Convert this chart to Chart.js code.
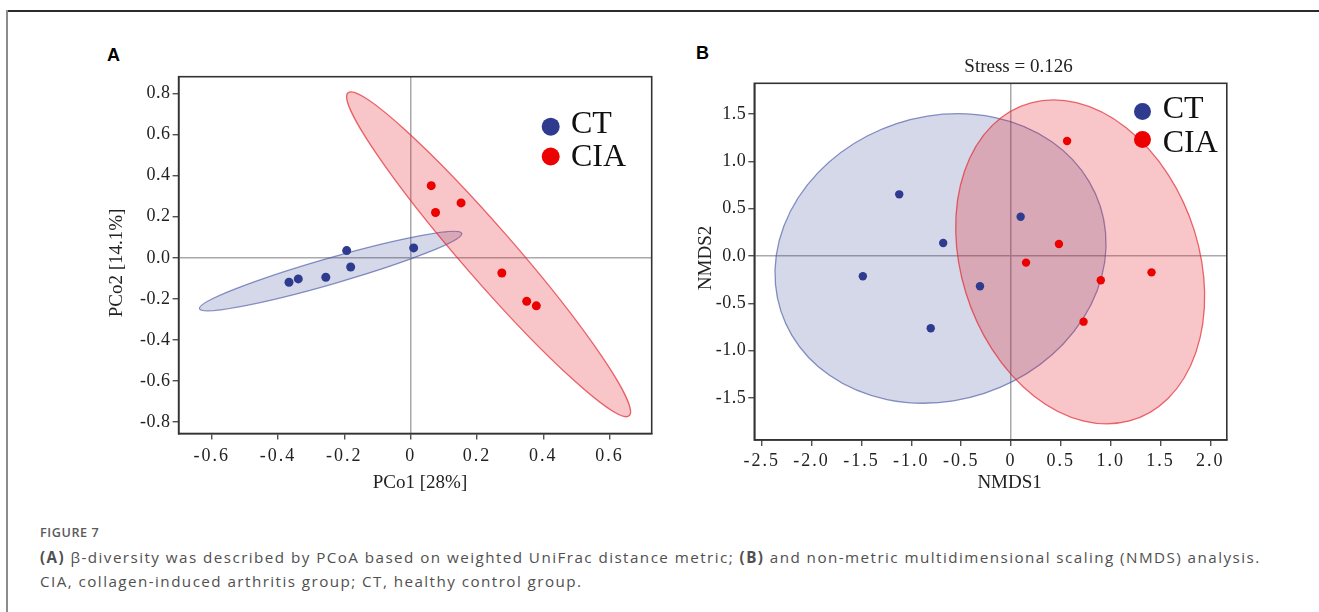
<!DOCTYPE html>
<html>
<head>
<meta charset="utf-8">
<script src="https://cdn.jsdelivr.net/npm/chart.js@4"></script>
<style>
  html, body { margin: 0; padding: 0; background: #fff; width: 1319px; height: 612px; overflow: hidden; }
  .frameTop { position: absolute; left: 6px; top: 10px; width: 1313px; height: 1.5px; background: #2b2b2b; }
  .frameLeft { position: absolute; left: 6px; top: 10px; width: 2px; height: 602px; background: #8c8c8c; }
  .panel { position: absolute; font: bold 18px "Liberation Sans", Arial, sans-serif; color: #000; }
  canvas { position: absolute; }
  .cap { position: absolute; left: 40px; font-family: "Open Sans", "Noto Sans", sans-serif; color: #505050; white-space: nowrap; }
  .capHead { top: 523px; line-height: 20px; font-size: 12.6px; font-weight: 600; color: #5a5a5a; letter-spacing: 0.6px; }
  .capLine { font-size: 15.2px; line-height: 25px; letter-spacing: 1.45px; }
</style>
</head>
<body>
<div class="frameTop"></div>
<div class="frameLeft"></div>
<div class="panel" style="left:107px; top:45px;">A</div>
<div class="panel" style="left:696px; top:43px;">B</div>
<canvas id="chartA" width="600" height="470" style="left:90px; top:40px;"></canvas>
<canvas id="chartB" width="560" height="470" style="left:690px; top:40px;"></canvas>
<div class="cap capHead">FIGURE 7</div>
<div class="cap capLine" style="top:544.5px;"><b>(A)</b> β-diversity was described by PCoA based on weighted UniFrac distance metric; <b>(B)</b> and non-metric multidimensional scaling (NMDS) analysis.</div>
<div class="cap capLine" style="top:569px;">CIA, collagen-induced arthritis group; CT, healthy control group.</div>

<script>
// groups
const groupNames = ['CT', 'CIA']
const groupColors = ['#2e3b8e', '#ec0000']

// A: PCoA
const pcoCtX = [-0.367, -0.339, -0.256, -0.193, -0.181, 0.009]
const pcoCtY = [-0.119, -0.103, -0.095, 0.035, -0.045, 0.048]
const pcoCiaX = [0.062, 0.075, 0.152, 0.275, 0.350, 0.379]
const pcoCiaY = [0.351, 0.220, 0.267, -0.074, -0.212, -0.234]
const pcoXTicks = [-0.6, -0.4, -0.2, 0, 0.2, 0.4, 0.6]
const pcoXLabels = ['-0.6', '-0.4', '-0.2', '0', '0.2', '0.4', '0.6']
const pcoYTicks = [0.8, 0.6, 0.4, 0.2, 0, -0.2, -0.4, -0.6, -0.8]
const pcoYLabels = ['0.8', '0.6', '0.4', '0.2', '0.0', '-0.2', '-0.4', '-0.6', '-0.8']
// ellipses: centre, two conjugate semi-axes (data units)
const pcoCtEllipse = { c: [-0.2415, -0.0645], u: [0.3955, 0.1835], v: [0.0108, -0.0608] }
const pcoCiaEllipse = { c: [0.235, 0.017], u: [0.424, -0.786], v: [0.0591, 0.0832] }

// B: NMDS
const nmdsCtX = [-1.121, -0.680, -1.486, -0.311, -0.805, 0.097]
const nmdsCtY = [0.651, 0.137, -0.215, -0.320, -0.764, 0.415]
const nmdsCiaX = [0.563, 0.481, 0.151, 0.901, 1.410, 0.728]
const nmdsCiaY = [1.215, 0.127, -0.070, -0.257, -0.173, -0.694]
const nmdsXTicks = [-2.5, -2.0, -1.5, -1.0, -0.5, 0, 0.5, 1.0, 1.5, 2.0]
const nmdsXLabels = ['-2.5', '-2.0', '-1.5', '-1.0', '-0.5', '0', '0.5', '1.0', '1.5', '2.0']
const nmdsYTicks = [1.5, 1.0, 0.5, 0, -0.5, -1.0, -1.5]
const nmdsYLabels = ['1.5', '1.0', '0.5', '0.0', '-0.5', '-1.0', '-1.5']
const nmdsCtEllipse = { c: [-0.707, -0.026], u: [1.491, 0.812], v: [0.731, -1.296] }
const nmdsCiaEllipse = { c: [0.694, -0.063], u: [0.494, -1.680], v: [-1.147, -0.325] }
const stressText = 'Stress = 0.126'

const serif = '"Liberation Serif", "Times New Roman", serif'
const ellipseFill = ['rgba(46, 59, 142, 0.2)', 'rgba(228, 30, 40, 0.255)']
const ellipseLine = ['rgba(70, 88, 168, 0.65)', 'rgba(226, 40, 50, 0.7)']

const toPts = (xs, ys) => xs.map((x, i) => ({ x: x, y: ys[i] }))

function drawEllipse(chart, e, i) {
    const { ctx, scales: { x, y } } = chart
    const cx = x.getPixelForValue(e.c[0])
    const cy = y.getPixelForValue(e.c[1])
    const ax = x.getPixelForValue(e.c[0] + e.u[0]) - cx
    const ay = y.getPixelForValue(e.c[1] + e.u[1]) - cy
    const bx = x.getPixelForValue(e.c[0] + e.v[0]) - cx
    const by = y.getPixelForValue(e.c[1] + e.v[1]) - cy
    ctx.save()
    ctx.beginPath()
    ctx.transform(ax, ay, bx, by, cx, cy)
    ctx.arc(0, 0, 1, 0, Math.PI * 2)
    ctx.restore()
    ctx.save()
    ctx.fillStyle = ellipseFill[i]
    ctx.fill()
    ctx.strokeStyle = ellipseLine[i]
    ctx.lineWidth = 1.3
    ctx.stroke()
    ctx.restore()
}

// spaced tick labels like the original export
function spaceTicks(scale, px) {
    if (scale._spaced) return
    const orig = scale.drawLabels
    scale.drawLabels = function (area) {
        this.ctx.letterSpacing = px
        orig.call(this, area)
        this.ctx.letterSpacing = '0px'
    }
    scale._spaced = true
}

function makePlugin(p) {
    return {
        id: 'extras',
        afterLayout(chart) {
            spaceTicks(chart.scales.x, '2px')
            spaceTicks(chart.scales.y, '0.5px')
        },
        beforeDatasetsDraw(chart) {
            p.ellipses.forEach((e, i) => drawEllipse(chart, e, i))
        },
        afterDraw(chart) {
            const { ctx, chartArea: a } = chart
            ctx.save()
            // box top / right
            ctx.strokeStyle = '#333'
            ctx.lineWidth = 1.6
            ctx.strokeRect(a.left, a.top, a.right - a.left, a.bottom - a.top)
            // axis titles
            ctx.fillStyle = '#222'
            ctx.font = '19px ' + serif
            ctx.textAlign = 'center'
            ctx.textBaseline = 'middle'
            ctx.fillText(p.xTitle, p.xTitlePos[0], p.xTitlePos[1])
            ctx.save()
            ctx.translate(p.yTitlePos[0], p.yTitlePos[1])
            ctx.rotate(-Math.PI / 2)
            ctx.fillText(p.yTitle, 0, 0)
            ctx.restore()
            if (p.topTitle) ctx.fillText(p.topTitle, p.topTitlePos[0], p.topTitlePos[1])
            // legend
            ctx.textAlign = 'left'
            ctx.textBaseline = 'alphabetic'
            ctx.font = '32px ' + serif
            groupNames.forEach((name, i) => {
                ctx.fillStyle = groupColors[i]
                ctx.beginPath()
                ctx.arc(p.legend.x, p.legend.dotY[i], p.legend.r, 0, Math.PI * 2)
                ctx.fill()
                ctx.fillStyle = '#111'
                ctx.fillText(name, p.legend.textX, p.legend.baseY[i])
            })
            ctx.restore()
        }
    }
}

function axis(min, max, ticks, labels, size, pad, isX) {
    return {
        type: 'linear',
        min: min,
        max: max,
        afterBuildTicks: s => { s.ticks = ticks.map(v => ({ value: v })) },
        afterFit: s => { if (isX) { s.height = size } else { s.width = size } },
        ticks: {
            callback: (v, i) => labels[i],
            font: { family: serif, size: 18 },
            color: '#222',
            padding: pad,
            autoSkip: false,
            maxRotation: 0
        },
        grid: {
            color: c => (c.tick && c.tick.value === 0) ? '#a9a9a9' : 'rgba(0,0,0,0)',
            lineWidth: 1.5,
            tickColor: '#333',
            tickWidth: 1.2,
            tickLength: 6
        },
        border: { display: true, color: '#333', width: 1.6 }
    }
}

function makeChart(id, sets, p, padding) {
    return new Chart(document.getElementById(id), {
        type: 'scatter',
        data: {
            datasets: sets.map((s, i) => ({
                label: groupNames[i],
                data: s,
                backgroundColor: groupColors[i],
                borderWidth: 0,
                pointRadius: p.pointR,
                pointHoverRadius: p.pointR
            }))
        },
        options: {
            responsive: false,
            animation: false,
            layout: { padding: padding, autoPadding: false },
            plugins: { legend: { display: false }, tooltip: { enabled: false }, title: { display: false } },
            scales: { x: p.x, y: p.y }
        },
        plugins: [makePlugin(p)]
    })
}

makeChart('chartA', [toPts(pcoCtX, pcoCtY), toPts(pcoCiaX, pcoCiaY)], {
    x: axis(-0.7, 0.727, pcoXTicks, pcoXLabels, 62, 6, true),
    y: axis(-0.855, 0.881, pcoYTicks, pcoYLabels, 88.6, 2, false),
    ellipses: [pcoCtEllipse, pcoCiaEllipse],
    pointR: 4.5,
    xTitle: 'PCo1 [28%]', xTitlePos: [330, 443],
    yTitle: 'PCo2 [14.1%]', yTitlePos: [26.8, 223],
    legend: { x: 460.7, dotY: [86.7, 116.5], r: 9, textX: 481, baseY: [93.3, 126] }
}, { left: 0, top: 36.7, right: 38.3, bottom: 14.5 })

makeChart('chartB', [toPts(nmdsCtX, nmdsCtY), toPts(nmdsCiaX, nmdsCiaY)], {
    x: axis(-2.575, 2.165, nmdsXTicks, nmdsXLabels, 60, 4, true),
    y: axis(-1.944, 1.824, nmdsYTicks, nmdsYLabels, 64.3, 2, false),
    ellipses: [nmdsCtEllipse, nmdsCiaEllipse],
    pointR: 4.2,
    xTitle: 'NMDS1', xTitlePos: [319.6, 443.3],
    yTitle: 'NMDS2', yTitlePos: [16.5, 218],
    topTitle: stressText, topTitlePos: [328.5, 27],
    legend: { x: 452.5, dotY: [71.5, 99.5], r: 8.5, textX: 472.7, baseY: [78, 111.5] }
}, { left: 0, top: 43.3, right: 23.2, bottom: 10 })
</script>
</body>
</html>
